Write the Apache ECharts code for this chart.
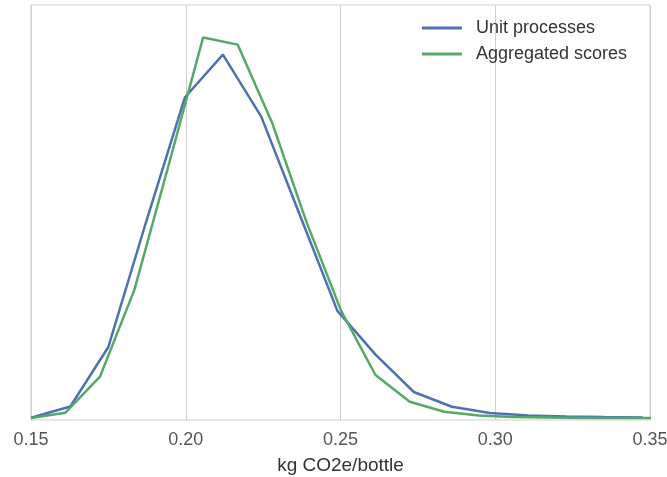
<!DOCTYPE html>
<html>
<head>
<meta charset="utf-8">
<script src="https://cdn.jsdelivr.net/npm/echarts@6/dist/echarts.min.js"></script>
<style>
	html, body { margin: 0; padding: 0; background: #fff; }
	#chart { width: 667px; height: 477px; }
</style>
</head>
<body>
<div id="chart"></div>
<script>
// values (y is a density, axis hidden)
var unitX = [0.1500, 0.1627, 0.1750, 0.1874, 0.1997, 0.2120, 0.2244, 0.2367, 0.2490, 0.2614, 0.2737, 0.2860, 0.2983, 0.3107, 0.3230, 0.3353, 0.3477];
var unitY = [0.11, 0.65, 3.52, 9.65, 15.54, 17.61, 14.62, 9.94, 5.26, 3.14, 1.35, 0.64, 0.34, 0.22, 0.17, 0.14, 0.12];

var aggX = [0.1500, 0.1611, 0.1723, 0.1834, 0.1945, 0.2056, 0.2168, 0.2279, 0.2390, 0.2502, 0.2613, 0.2724, 0.2835, 0.2947, 0.3058, 0.3169, 0.3281, 0.3392, 0.3503];
var aggY = [0.10, 0.35, 2.09, 6.27, 12.30, 18.43, 18.09, 14.33, 9.55, 5.26, 2.17, 0.88, 0.40, 0.22, 0.14, 0.12, 0.10, 0.10, 0.10];

var seriesNames = ['Unit processes', 'Aggregated scores'];
var xTicks = [0.15, 0.20, 0.25, 0.30, 0.35];

function pairs(xs, ys) {
	return xs.map(function (x, i) { return [x, ys[i]]; });
}

var chart = echarts.init(document.getElementById('chart'));

var option = {
	animation: false,
	color: ['#4C72B0', '#55A868'],
	grid: {
		left: 31, right: 17, top: 5, bottom: 57,
		outerBoundsMode: 'none',
		containLabel: false,
		show: true,
		borderColor: '#cfcfcf',
		borderWidth: 1
	},
	legend: {
		data: seriesNames,
		orient: 'vertical',
		right: 35,
		top: 14,
		icon: 'rect',
		itemWidth: 40,
		itemHeight: 3,
		itemGap: 8,
		textStyle: {
			fontFamily: 'Liberation Sans, Arial, sans-serif',
			fontSize: 18,
			color: '#333',
			padding: [0, 0, 0, 9]
		}
	},
	xAxis: {
		type: 'value',
		min: xTicks[0],
		max: xTicks[xTicks.length - 1],
		interval: 0.05,
		name: 'kg CO2e/bottle',
		nameLocation: 'middle',
		nameGap: 36,
		nameTextStyle: {
			fontFamily: 'Liberation Sans, Arial, sans-serif',
			fontSize: 19,
			color: '#333'
		},
		axisLine: { show: false },
		axisTick: { show: false },
		axisLabel: {
			margin: 11,
			fontFamily: 'Liberation Sans, Arial, sans-serif',
			fontSize: 18,
			color: '#555',
			formatter: function (v) { return v.toFixed(2); }
		},
		splitLine: { show: true, lineStyle: { color: '#cfcfcf', width: 1 } }
	},
	yAxis: {
		type: 'value',
		min: 0,
		max: 20,
		show: false
	},
	series: [
		{
			name: seriesNames[0],
			type: 'line',
			showSymbol: false,
			data: pairs(unitX, unitY),
			lineStyle: { width: 2.5 }
		},
		{
			name: seriesNames[1],
			type: 'line',
			showSymbol: false,
			data: pairs(aggX, aggY),
			lineStyle: { width: 2.5 }
		}
	]
};

chart.setOption(option);
</script>
</body>
</html>
